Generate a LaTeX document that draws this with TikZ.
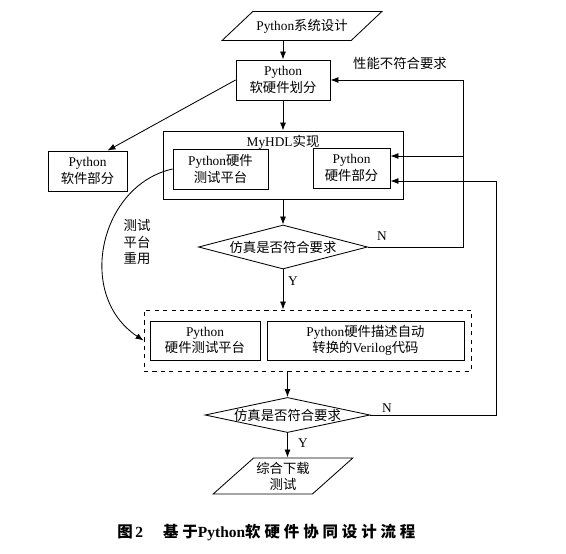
\documentclass[tikz,border=0pt]{standalone}
\usepackage{fontspec}
\setmainfont{Liberation Serif}
\newfontfamily\cjk{Noto Sans CJK SC}
\newfontfamily\cjkcap[LetterSpace=25]{Noto Sans CJK SC}
\usetikzlibrary{arrows.meta,positioning,shapes.geometric,calc}
\newcommand{\zh}[1]{{\cjk #1}}
\newcommand{\zhcap}[1]{{\cjkcap #1}}

\begin{document}
\begin{tikzpicture}[
  x=0.025cm, y=-0.025cm,
  font=\fontsize{9.5}{11.5}\selectfont,
  block/.style={rectangle, draw, line width=0.6pt, align=center, inner sep=1pt, minimum height=1cm},
  decision/.style={diamond, draw, line width=0.6pt, inner sep=0pt, align=center},
  io/.style={trapezium, draw, line width=0.6pt, trapezium stretches=true, align=center, inner sep=1pt},
  arrow/.style={-{Latex[length=2mm,width=1.5mm]}, line width=0.6pt},
  line/.style={line width=0.6pt},
  lbl/.style={inner sep=1pt, align=center}
]
\useasboundingbox (0,0) rectangle (566,553);

% upper part
\node[io, trapezium left angle=30, trapezium right angle=150, minimum width=4cm, minimum height=0.725cm] (sysdesign) at (302,26) {Python\zh{系统设计}};
\node[block, minimum width=2.35cm] (hwsw) at (283,80) {Python\\\zh{软硬件划分}};
\node[block, minimum width=1.975cm] (swpart) at (87.5,171) {Python\\\zh{软件部分}};
\node[block, minimum width=6cm, minimum height=1.7cm] (myhdl) at (283,165) {};
\node[lbl] (myhdltitle) at (283,142) {MyHDL\zh{实现}};
\node[block, minimum width=2.375cm] (hwtb) at (220.5,169) {Python\zh{硬件}\\\zh{测试平台}};
\node[block, minimum width=1.925cm] (hwpart) at (351.5,168) {Python\\\zh{硬件部分}};
\node[decision, aspect=3.8, minimum width=4.225cm, minimum height=1.1cm] (check1) at (283,247) {\zh{仿真是否符合要求}};

% lower part
\node[block, dashed, minimum width=8.175cm, minimum height=1.525cm] (convert) at (307.5,340.5) {};
\node[block, minimum width=2.75cm, minimum height=0.975cm] (pytb) at (205,340.5) {Python\\\zh{硬件测试平台}};
\node[block, minimum width=4.925cm, minimum height=0.975cm] (verilog) at (365.5,340.5) {Python\zh{硬件描述自动}\\\zh{转换的}Verilog\zh{代码}};
\node[decision, aspect=4.7, minimum width=4.025cm, minimum height=0.85cm] (check2) at (287.5,415) {\zh{仿真是否符合要求}};
\node[io, trapezium left angle=39, trapezium right angle=141, minimum width=3.5cm, minimum height=0.9cm] (synth) at (283,476) {\zh{综合下载}\\\zh{测试}};

\coordinate (loopA) at (463,156);
\coordinate (loopB) at (496,181);

% connectors
\draw[arrow] (sysdesign.south -| hwsw.north) -- (hwsw.north);
\draw[arrow] (hwsw.south) -- (myhdl.north);
\draw[arrow] (hwsw.west) -- ($(swpart.north)!0.5!(swpart.north east)$);
\draw[arrow] (myhdl.south) -- (check1.north);
\draw[arrow] (check1.east) -| (loopA |- hwsw.east) -- (hwsw.east);
\draw[arrow] (loopA) -- (loopA -| hwpart.east);
\draw[arrow] (check1.south) -- (check1.south |- convert.north);
\draw[arrow] (hwtb.west) .. controls (100,185) and (75,295) .. (convert.west);
\draw[arrow] (convert.south -| check2.north) -- (check2.north);
\draw[arrow] (check2.south) -- (check2.south |- synth.north);
\draw[line] (check2.east) -| (loopB);
\draw[arrow] (loopB) -- (loopB -| hwpart.east);

% labels
\node[lbl] (perflbl) at (400,63) {\zh{性能不符合要求}};
\node[lbl] (n1) at (382,236) {N};
\node[lbl] (y1) at (293,281) {Y};
\node[lbl] (reuse) at (137,242) {\zh{测试}\\\zh{平台}\\\zh{重用}};
\node[lbl] (n2) at (387,408) {N};
\node[lbl] (y2) at (303,443) {Y};
\node[anchor=west, inner sep=0pt, font=\fontsize{11}{13}\selectfont\bfseries] (caption) at (117,533) {\zhcap{图}\,2\hspace{1.3em}\zhcap{基于}Python\zhcap{软硬件协同设计流程}};
\end{tikzpicture}
\end{document}
